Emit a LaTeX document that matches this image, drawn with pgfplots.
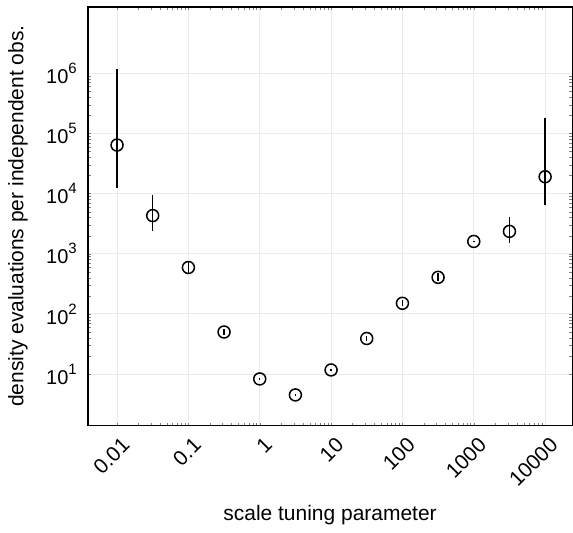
\documentclass[border=0pt]{standalone}
\usepackage{fontspec}
\setmainfont{Liberation Sans}
\usepackage{pgfplots}
\pgfplotsset{compat=1.18}
\pgfplotstableread{
x y ep em
0.01 64000 1106000 51400
0.0316 4300 5300 1950
0.1 590 150 120
0.316 50 6 5
1 8.3 0.3 0.3
3.16 4.5 0.15 0.15
10 11.7 0.6 0.5
31.6 39 3.5 3
100 150 18 15
316 405 65 55
1000 1600 50 50
3162 2350 1650 870
10000 19000 159000 12500
}\datatab
\newcommand\sx[1]{\raisebox{0.5em}{\fontsize{15bp}{15bp}\selectfont #1}}
\begin{document}
\fontsize{21bp}{24bp}\selectfont
\begin{tikzpicture}
\begin{axis}[name=ax,
 scale only axis, width=485bp, height=419bp,
 xmode=log, ymode=log,
 xmin=0.0039, xmax=24000, ymin=1.4, ymax=12600000,
 xtick={0.01,0.1,1,10,100,1000,10000},
 xticklabels={0.01,0.1,1,10,100,1000,10000},
 x tick label style={rotate=45, anchor=north east, font=\fontsize{21bp}{24bp}\selectfont, xshift=2bp, yshift=-3bp},
 ytick={10,100,1000,10000,100000,1000000},
 yticklabels={10\sx{1},10\sx{2},10\sx{3},10\sx{4},10\sx{5},10\sx{6}},
 y tick label style={font=\fontsize{20bp}{24bp}\selectfont, xshift=-4bp},
 major tick length=0pt, minor tick num=0,
 grid=major, major grid style={color=black!8, line width=0.8bp},
 axis line style={line width=1.5bp},
 xlabel={scale tuning parameter},
 ylabel={density evaluations per independent obs.},
 xlabel style={at={(axis description cs:0.5,-0.215)}, anchor=center, font=\fontsize{21bp}{24bp}\selectfont},
 ylabel style={at={(axis description cs:-0.1443,0.5)}, anchor=center, font=\fontsize{21bp}{24bp}\selectfont},
]
\addplot[black, only marks, mark=o, mark size=6bp, mark options={line width=1.5bp},
 error bars/.cd, y dir=both, y explicit, error bar style={line width=1.5bp, black}, error mark=none]
 table[x=x, y=y, y error plus=ep, y error minus=em] {\datatab};
\end{axis}
\path ([xshift=-88bp,yshift=-103bp]ax.south west) rectangle ([yshift=7bp]ax.north east);
\end{tikzpicture}
\end{document}
